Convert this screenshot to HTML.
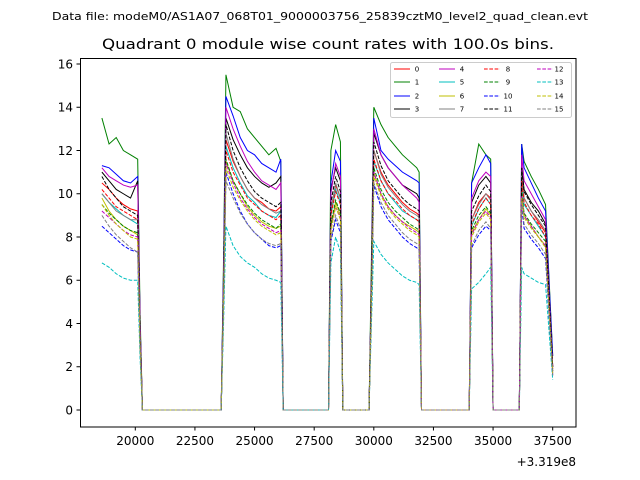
<!DOCTYPE html>
<html><head><meta charset="utf-8"><style>
html,body{margin:0;padding:0;background:#fff;}
svg{display:block;font-family:"DejaVu Sans","Liberation Sans",sans-serif;}
</style></head><body>
<svg id="chart" width="640" height="480" viewBox="0 0 640 480" xmlns="http://www.w3.org/2000/svg">
<rect width="640" height="480" fill="#fff"/>
<text x="320" y="20" font-size="11" text-anchor="middle" textLength="536" lengthAdjust="spacingAndGlyphs">Data file: modeM0/AS1A07_068T01_9000003756_25839cztM0_level2_quad_clean.evt</text>
<text x="328" y="49" font-size="14" text-anchor="middle" textLength="452" lengthAdjust="spacingAndGlyphs">Quadrant 0 module wise count rates with 100.0s bins.</text>
<g id="series"></g>
<g id="axes"></g>
<rect x="80.5" y="58.5" width="495.5" height="368.5" fill="none" stroke="#000" stroke-width="1"/>
<g id="legend"></g>
<text x="576" y="466" font-size="12" text-anchor="end">+3.319e8</text>
</svg>
<script>
const times=[18600,18900,19200,19500,19800,20100,20200,20300,23600,23700,23800,24100,24400,24700,25000,25300,25600,25900,26100,26200,28100,28200,28400,28600,28700,29800,29900,30000,30300,30600,30900,31200,31500,31800,31900,32000,34000,34100,34400,34700,34900,35000,36100,36200,36300,36600,36900,37200,37500];
const s0=[10.5,10.2,9.8,9.5,9.3,9.2,3.6,0,0,5.5,12.5,11.5,10.8,10.2,9.8,9.6,9.3,9.2,9.4,0,0,9.3,10.4,9.8,0,0,5.5,12,11,10.4,10,9.6,9.3,9.1,9,0,0,8.8,9.6,10,9.8,0,0,10.8,9.8,9.2,8.7,8.2,2];
const s1=[13.5,12.3,12.6,12,11.8,11.6,4.5,0,0,7,15.5,14,13.8,13,12.6,12.2,11.8,12.1,11.5,0,0,12,13.2,12.4,0,0,7,14,13.2,12.6,12.2,11.8,11.5,11.2,11,0,0,10.5,12.3,11.8,11.6,0,0,12.3,11.5,10.8,10.2,9.5,2.5];
const s2=[11.3,11.2,10.9,10.6,10.5,10.8,4,0,0,6.5,14.5,13.6,12.6,12,11.8,11.4,11.2,11,11.6,0,0,10.5,12,11.5,0,0,6,13.5,12,11.6,11.3,11,10.8,10.6,10.5,0,0,10.5,11.2,11.8,11.4,0,0,12.3,11.2,10.5,9.8,9.2,2.5];
const s3=[11,10.6,10.2,10,9.8,10.6,4,0,0,6,13.5,12.5,11.8,11.2,10.8,10.5,10.3,10.5,10.8,0,0,10.2,11.2,10.6,0,0,6,12.8,11.8,11.2,10.8,10.4,10.2,10,9.8,0,0,9.6,10.4,10.8,10.5,0,0,11.2,10.2,9.6,9.2,8.6,2];
const s4=[11.2,10.8,10.6,10.4,10.3,10.4,4,0,0,6,14,13,12.2,11.5,11,10.6,10.4,10.2,10.5,0,0,10,11.4,10.8,0,0,6,13,11.8,11.2,10.8,10.4,10.1,9.8,9.6,0,0,9.8,10.6,11,10.8,0,0,11.8,10.6,10,9.4,8.8,2];
const s5=[10,9.6,9.3,9,8.8,8.6,3.4,0,0,5.5,12.2,11.2,10.5,9.9,9.6,9.2,9,8.9,9.2,0,0,9,10.2,9.6,0,0,5.5,11.5,10.6,10,9.6,9.2,9,8.8,8.7,0,0,8.5,9.3,9.8,9.5,0,0,10.5,9.5,9,8.5,8,1.8];
const s6=[9.8,9.2,8.8,8.5,8.3,8.1,3.2,0,0,5,11.5,10.6,10,9.4,9,8.7,8.5,8.4,8.5,0,0,8.5,9.6,9,0,0,5,11,10,9.4,9,8.7,8.5,8.3,8.2,0,0,8.2,8.8,9.3,9,0,0,10,9,8.5,8,7.6,1.8];
const s7=[10,9.6,9.2,9,8.8,8.8,3.4,0,0,5.3,12.8,11.6,10.8,10.2,9.8,9.5,9.3,9.1,9.2,0,0,9.2,10.5,9.8,0,0,5.5,12,10.9,10.3,9.9,9.5,9.2,9,8.9,0,0,8.8,9.5,10,9.7,0,0,11,9.8,9.2,8.8,8.3,2];
const s8=[10.2,9.8,9.4,9.2,9,8.8,3.4,0,0,5.4,12,11,10.4,9.8,9.5,9.2,9,8.8,9,0,0,9,10.1,9.5,0,0,5.5,11.6,10.6,10,9.7,9.3,9,8.8,8.7,0,0,8.6,9.3,9.8,9.5,0,0,10.6,9.6,9,8.6,8,1.9];
const s9=[9.5,9.1,8.8,8.5,8.3,8.2,3.2,0,0,5,11.6,10.6,10,9.5,9.1,8.8,8.6,8.4,8.6,0,0,8.6,9.7,9.1,0,0,5.2,11.2,10.2,9.6,9.2,8.9,8.6,8.4,8.3,0,0,8.3,9,9.4,9.1,0,0,10.1,9.1,8.6,8.2,7.8,1.8];
const s10=[8.5,8.2,7.9,7.6,7.4,7.3,2.8,0,0,4.5,11,10,9.2,8.6,8.2,7.9,7.6,7.5,7.6,0,0,7.8,8.8,8.2,0,0,4.8,10.4,9.4,8.8,8.4,8,7.7,7.5,7.4,0,0,7.5,8.1,8.5,8.3,0,0,9.4,8.4,7.9,7.5,7,1.6];
const s11=[10.8,10.2,9.8,9.4,9.2,9,3.5,0,0,5.6,13.2,12,11.2,10.6,10.1,9.8,9.6,9.4,9.6,0,0,9.6,10.8,10.1,0,0,5.8,12.4,11.3,10.6,10.2,9.8,9.5,9.3,9.2,0,0,9.2,9.9,10.4,10.1,0,0,11.2,10.1,9.5,9,8.5,2];
const s12=[9.2,8.9,8.6,8.3,8.1,8,3.1,0,0,5,11.4,10.5,9.8,9.3,8.9,8.6,8.4,8.2,8.3,0,0,8.4,9.4,8.9,0,0,5,11,10,9.4,9,8.7,8.4,8.2,8.1,0,0,8.1,8.8,9.2,8.9,0,0,9.9,9,8.5,8,7.6,1.7];
const s13=[6.8,6.6,6.3,6.1,6,6,2.4,0,0,4,8.5,7.6,7.1,6.8,6.6,6.3,6.1,6,5.9,0,0,6.8,8,7.3,0,0,4,7.8,7.2,6.8,6.5,6.2,6,5.9,5.8,0,0,5.6,5.9,6.3,6.6,0,0,6.6,6.3,6.1,5.9,5.8,1.4];
const s14=[9.5,9,8.6,8.3,8,7.9,3,0,0,5,11.2,10.3,9.7,9.2,8.8,8.5,8.3,8.1,8.2,0,0,8.3,9.4,8.8,0,0,5,10.8,9.9,9.3,8.9,8.6,8.3,8.1,8,0,0,8,8.7,9.1,8.8,0,0,9.8,8.9,8.4,8,7.5,1.7];
const s15=[9,8.5,8.1,7.8,7.5,7.3,2.9,0,0,4.8,10.6,9.8,9.1,8.6,8.2,7.9,7.7,7.6,7.7,0,0,7.9,9,8.4,0,0,4.8,10.5,9.6,9,8.6,8.2,7.9,7.7,7.6,0,0,7.6,8.3,8.7,8.4,0,0,9.6,8.6,8.1,7.7,7.2,1.6];
const seriesLabels=["0","1","2","3","4","5","6","7","8","9","10","11","12","13","14","15"];
const xTicks=[20000,22500,25000,27500,30000,32500,35000,37500];
const yTicks=[0,2,4,6,8,10,12,14,16];

const allSeries=[s0,s1,s2,s3,s4,s5,s6,s7,s8,s9,s10,s11,s12,s13,s14,s15];
const colors=["#ff0000","#008000","#0000ff","#000000","#bf00bf","#00bfbf","#bfbf00","#808080"];
const NS="http://www.w3.org/2000/svg";
const xS=t=>135.3+(t-20000)*(417.4/17500);
const yS=v=>410-v*21.625;
const sg=document.getElementById('series');
allSeries.forEach((vals,i)=>{
  const p=document.createElementNS(NS,'path');
  
  
  p.setAttribute('d',vals.map((v,j)=>(j?'L':'M')+xS(times[j]).toFixed(2)+' '+yS(v).toFixed(2)).join(''));
  p.setAttribute('fill','none');
  p.setAttribute('stroke',colors[i%8]);
  p.setAttribute('stroke-width','1');
  if(i>=8)p.setAttribute('stroke-dasharray','3.7 1.6');
  sg.appendChild(p);
});
const ax=document.getElementById('axes');
xTicks.forEach(t=>{
  const x=xS(t);
  const l=document.createElementNS(NS,'line');
  
  
  l.setAttribute('x1',x);l.setAttribute('x2',x);l.setAttribute('y1',427);l.setAttribute('y2',430.5);
  l.setAttribute('stroke','#000');
  ax.appendChild(l);
  const tx=document.createElementNS(NS,'text');
  
  
  tx.setAttribute('x',x);tx.setAttribute('y',445);tx.setAttribute('font-size','12');tx.setAttribute('text-anchor','middle');
  tx.textContent=t;
  ax.appendChild(tx);
});
yTicks.forEach(v=>{
  const y=yS(v);
  const l=document.createElementNS(NS,'line');
  
  
  l.setAttribute('x1',76.5);l.setAttribute('x2',80.5);l.setAttribute('y1',y);l.setAttribute('y2',y);
  l.setAttribute('stroke','#000');
  ax.appendChild(l);
  const tx=document.createElementNS(NS,'text');
  
  
  tx.setAttribute('x',73);tx.setAttribute('y',y+4.3);tx.setAttribute('font-size','12');tx.setAttribute('text-anchor','end');
  tx.textContent=v;
  ax.appendChild(tx);
});
const lg=document.getElementById('legend');
const box=document.createElementNS(NS,'rect');


box.setAttribute('x',390.5);box.setAttribute('y',62.5);box.setAttribute('width',181);box.setAttribute('height',55);box.setAttribute('rx',2);
box.setAttribute('fill','#fff');box.setAttribute('fill-opacity','0.8');box.setAttribute('stroke','#ccc');
lg.appendChild(box);
const colX=[394,439,484,537],labX=[417,462,508,559],rowY=[69,82,96,109];
seriesLabels.forEach((lab,i)=>{
  const c=Math.floor(i/4),r=i%4;
  const g=document.createElementNS(NS,'g');
  
  
  const l=document.createElementNS(NS,'line');
  l.setAttribute('x1',colX[c]);l.setAttribute('x2',colX[c]+16);l.setAttribute('y1',rowY[r]);l.setAttribute('y2',rowY[r]);
  l.setAttribute('stroke',colors[i%8]);l.setAttribute('stroke-width','1');
  if(i>=8)l.setAttribute('stroke-dasharray','3.7 1.6');
  g.appendChild(l);
  const t=document.createElementNS(NS,'text');
  t.setAttribute('x',labX[c]);t.setAttribute('y',rowY[r]+2.5);t.setAttribute('font-size','7');t.setAttribute('text-anchor','middle');
  t.textContent=lab;
  g.appendChild(t);
  lg.appendChild(g);
});
</script>
</body></html>
